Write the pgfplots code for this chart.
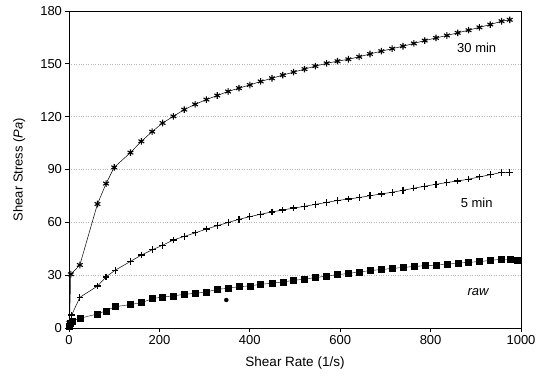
\documentclass[border=0pt]{standalone}
\usepackage{pgfplots}
\pgfplotsset{compat=1.18}
\usepackage{fontspec}
\setmainfont{Liberation Sans}
\begin{document}
\begin{tikzpicture}[x=1pt,y=1pt]
\begin{axis}[
  scale only axis,
  width=452pt, height=317pt,
  xmin=0, xmax=1000, ymin=0, ymax=180,
  xtick={0,200,...,1000}, ytick={0,30,...,180},
  tick align=outside, tick pos=left,
  major tick length=3.5pt,
  ymajorgrids,
  grid style={gray!55, dotted, line width=0.6pt},
  axis line style={black, line width=0.9pt},
  tick style={black, line width=0.7pt},
  ticklabel style={font=\fontsize{13}{15}\selectfont},
  /pgf/number format/assume math mode=true,
  /pgf/number format/1000 sep={},
  xlabel={Shear Rate (1/s)},
  ylabel={Shear Stress (\textit{Pa})},
  xlabel style={font=\fontsize{13.5}{16}\selectfont, yshift=-6pt},
  ylabel style={font=\fontsize{13}{15}\selectfont, yshift=8pt},
  clip=false,
]
\coordinate (sw) at (rel axis cs:0,0);
\coordinate (ne) at (rel axis cs:1,1);
% 30 min
\addplot[black, line width=0.5pt, mark=asterisk, mark size=3.3pt, mark options={line width=1.1pt}] coordinates {
(1,3) (4,30.5) (24,35.8) (63,70.4) (82,82) (100,91.2) (136,99.6) (160,106) (184,111.5)
(207,116.4) (231,120.2) (255,124) (279,127) (304,129.7) (328,132) (352,134.3) (376,136.2)
(400,138) (424,140) (449,141.8) (473,143.6) (497,145.3) (521,147) (545,148.7) (570,150.3)
(594,151.5) (618,152.6) (642,154) (666,155.6) (691,157.2) (715,158.6) (739,160) (763,161.6)
(787,163.2) (812,164.7) (836,166.1) (860,167.6) (884,169.1) (908,170.7) (932,172.3) (957,174.2) (975,175)
};
% 5 min
\addplot[black, line width=0.5pt, mark=+, mark size=3.3pt, mark options={line width=1.2pt}] coordinates {
(2,1) (6,7.4) (24,17.4) (63,23.8) (82,29) (102,32.8) (136,37.8) (160,41.4) (185,44.5)
(207,47) (231,50) (255,52) (279,54) (304,56.2) (328,58.1) (352,59.9) (376,61.7) (400,63.2)
(424,64.6) (449,65.9) (473,67) (497,68.1) (521,69.1) (545,70.2) (570,71.3) (594,72.4)
(618,73.2) (642,74.1) (666,75.1) (691,76.1) (715,77.1) (739,78.2) (763,79.4) (787,80.5)
(812,81.6) (836,82.6) (860,83.5) (884,84.5) (908,85.8) (932,87) (957,88.4) (975,88.3)
};
% raw
\addplot[black, line width=0.4pt, mark=square*, mark size=3pt] coordinates {
(0.5,1) (2,2.5) (6,4) (24,5.5) (63,8) (82,9.8) (102,12.1) (136,13.3) (160,14.4) (185,16.7)
(207,17.6) (231,18.3) (255,19.1) (279,19.7) (304,20.4) (328,22) (352,22.5) (376,23.5)
(400,23.9) (424,24.8) (449,25.4) (473,26.2) (497,27) (521,27.8) (545,28.6) (570,29.5)
(594,30.3) (618,31) (642,31.8) (666,32.6) (691,33.2) (715,33.8) (739,34.4) (763,34.9)
(787,35.4) (812,35.7) (836,36.2) (860,36.8) (884,37.3) (908,37.7) (932,38.4) (957,39)
(975,38.8) (992,38.3)
};
\addplot[only marks, black, mark=*, mark size=2pt] coordinates {(348,15.9)};
\node[font=\fontsize{13}{15}\selectfont] at (axis cs:902,158.8) {30 min};
\node[font=\fontsize{13}{15}\selectfont] at (axis cs:902,70.8) {5 min};
\node[font=\fontsize{13}{15}\selectfont\itshape] at (axis cs:905,20.6) {raw};
\end{axis}
\path ([shift={(-69pt,-52pt)}]sw) rectangle ([shift={(27pt,11pt)}]ne);
\end{tikzpicture}
\end{document}
